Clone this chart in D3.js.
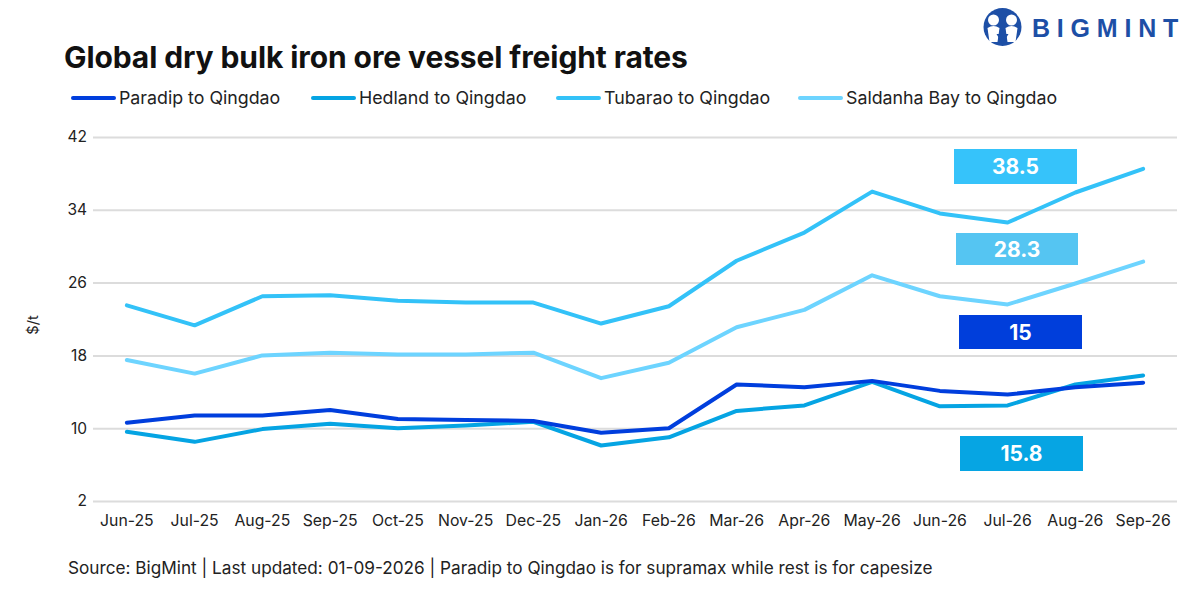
<!DOCTYPE html>
<html>
<head>
<meta charset="utf-8">
<script src="https://cdn.jsdelivr.net/npm/d3@7"></script>
<style>
  html, body { margin: 0; padding: 0; background: #fff; }
  svg { display: block; font-family: Inter, "Liberation Sans", Arial, sans-serif; }
</style>
</head>
<body>
<svg id="chart" width="1200" height="600"></svg>
<script>
const months = ["Jun-25","Jul-25","Aug-25","Sep-25","Oct-25","Nov-25","Dec-25","Jan-26","Feb-26","Mar-26","Apr-26","May-26","Jun-26","Jul-26","Aug-26","Sep-26"];
const paradip  = [10.6, 11.4, 11.4, 12.0, 11.0, 10.9, 10.8, 9.5, 10.0, 14.8, 14.5, 15.2, 14.1, 13.7, 14.5, 15.0];
const hedland  = [9.6, 8.5, 9.9, 10.5, 10.0, 10.3, 10.7, 8.1, 9.0, 11.9, 12.5, 15.1, 12.4, 12.5, 14.8, 15.8];
const tubarao  = [23.5, 21.3, 24.5, 24.6, 24.0, 23.8, 23.8, 21.5, 23.4, 28.4, 31.5, 36.0, 33.6, 32.6, 35.9, 38.5];
const saldanha = [17.5, 16.0, 18.0, 18.3, 18.1, 18.1, 18.3, 15.5, 17.2, 21.1, 23.0, 26.8, 24.5, 23.6, 25.9, 28.3];
const seriesNames = ["Paradip to Qingdao","Hedland to Qingdao","Tubarao to Qingdao","Saldanha Bay to Qingdao"];
const yTicks = [2, 10, 18, 26, 34, 42];
const labelValues = ["38.5", "28.3", "15", "15.8"];

const seriesColors = ["#003EDD", "#05A4E3", "#33C2F8", "#6DD4FF"];
const labelColors = ["#36C3FA", "#55C5F2", "#003EDB", "#06A5E3"];
const FONT = "Inter, Liberation Sans, Arial, sans-serif";

const svg = d3.select("#chart");

const x = d3.scaleBand().domain(months).range([93, 1177]);
const y = d3.scaleLinear().domain([2, 42]).range([501, 137]);
const cx = m => x(m) + x.bandwidth() / 2;

// Title
svg.append("text").attr("x", 64).attr("y", 68)
  .attr("font-size", 30).attr("font-weight", "bold").attr("fill", "#111")
  .attr("letter-spacing", -0.1)
  .text("Global dry bulk iron ore vessel freight rates");

// Logo
const logo = svg.append("g");
logo.append("circle").attr("cx", 1002.5).attr("cy", 27).attr("r", 19).attr("fill", "#1D4FA6");
[993.5, 1011.5].forEach(hx => {
  logo.append("circle").attr("cx", hx).attr("cy", 20).attr("r", 5.5).attr("fill", "#fff");
  logo.append("path")
    .attr("d", `M${hx-6},${28} Q${hx},${24} ${hx+6},${28} L${hx+4},${42} L${hx-4},${42} Z`)
    .attr("fill", "#fff");
});
logo.append("path").attr("d", "M996.5,34 L1002.5,44 L1008.5,34 L1005.5,34 L1002.5,39 L999.5,34 Z").attr("fill", "#1D4FA6");
logo.append("text").attr("x", 1032).attr("y", 37)
  .attr("font-size", 25).attr("font-weight", 900).attr("fill", "#1D4FA6")
  .attr("font-family", "Liberation Sans, Arial, sans-serif")
  .attr("letter-spacing", 6.8).text("BIGMINT");

// Legend
const legendX = [73, 313, 558, 800];
seriesNames.forEach((n, i) => {
  const g = svg.append("g");
  g.append("line").attr("x1", legendX[i]).attr("x2", legendX[i] + 41)
    .attr("y1", 98).attr("y2", 98)
    .attr("stroke", seriesColors[i]).attr("stroke-width", 4).attr("stroke-linecap", "round");
  g.append("text").attr("x", legendX[i] + 46).attr("y", 104)
    .attr("font-size", 17.8).attr("fill", "#222").text(n);
});

// Gridlines + y labels
const yAxis = d3.axisLeft(y).tickValues(yTicks).tickSize(-(1177 - 93)).tickPadding(6);
const gy = svg.append("g").attr("transform", "translate(93,0)").call(yAxis);
gy.select(".domain").remove();
gy.selectAll(".tick line").attr("stroke", "#dcdcdc").attr("stroke-width", 2);
gy.selectAll(".tick text").attr("font-size", 15.5).attr("fill", "#222").attr("font-family", FONT);

// X axis labels
const xAxis = d3.axisBottom(x).tickSize(0).tickPadding(14);
const gx = svg.append("g").attr("transform", "translate(0,501)").call(xAxis);
gx.select(".domain").remove();
gx.selectAll(".tick text").attr("font-size", 15.8).attr("fill", "#222").attr("font-family", FONT);

// y title
svg.append("text").attr("transform", "translate(38,325) rotate(-90)")
  .attr("text-anchor", "middle").attr("font-size", 14.5).attr("fill", "#222").text("$/t");

// Lines
const data = [paradip, hedland, tubarao, saldanha];
const line = d3.line().x((d, i) => cx(months[i])).y(d => y(d));
const drawOrder = [3, 2, 1, 0];
drawOrder.forEach(i => {
  svg.append("path").datum(data[i]).attr("d", line)
    .attr("fill", "none").attr("stroke", seriesColors[i]).attr("stroke-width", 4)
    .attr("stroke-linejoin", "round").attr("stroke-linecap", "round");
});

// Value label boxes
const boxes = [
  {x: 954, y: 149, w: 123, h: 35},
  {x: 956, y: 233, w: 122, h: 32},
  {x: 959, y: 315, w: 123, h: 34},
  {x: 960, y: 436, w: 123, h: 35}
];
labelValues.forEach((v, i) => {
  const b = boxes[i];
  svg.append("rect").attr("x", b.x).attr("y", b.y).attr("width", b.w).attr("height", b.h)
    .attr("fill", labelColors[i]);
  svg.append("text").attr("x", b.x + b.w / 2).attr("y", b.y + b.h / 2 + 7.5)
    .attr("text-anchor", "middle").attr("font-size", 21).attr("font-weight", "bold")
    .attr("fill", "#fff").text(v);
});

// Source
svg.append("text").attr("x", 68).attr("y", 574)
  .attr("font-size", 17.2).attr("fill", "#222")
  .text("Source: BigMint | Last updated: 01-09-2026 | Paradip to Qingdao is for supramax while rest is for capesize");
</script>
</body>
</html>
